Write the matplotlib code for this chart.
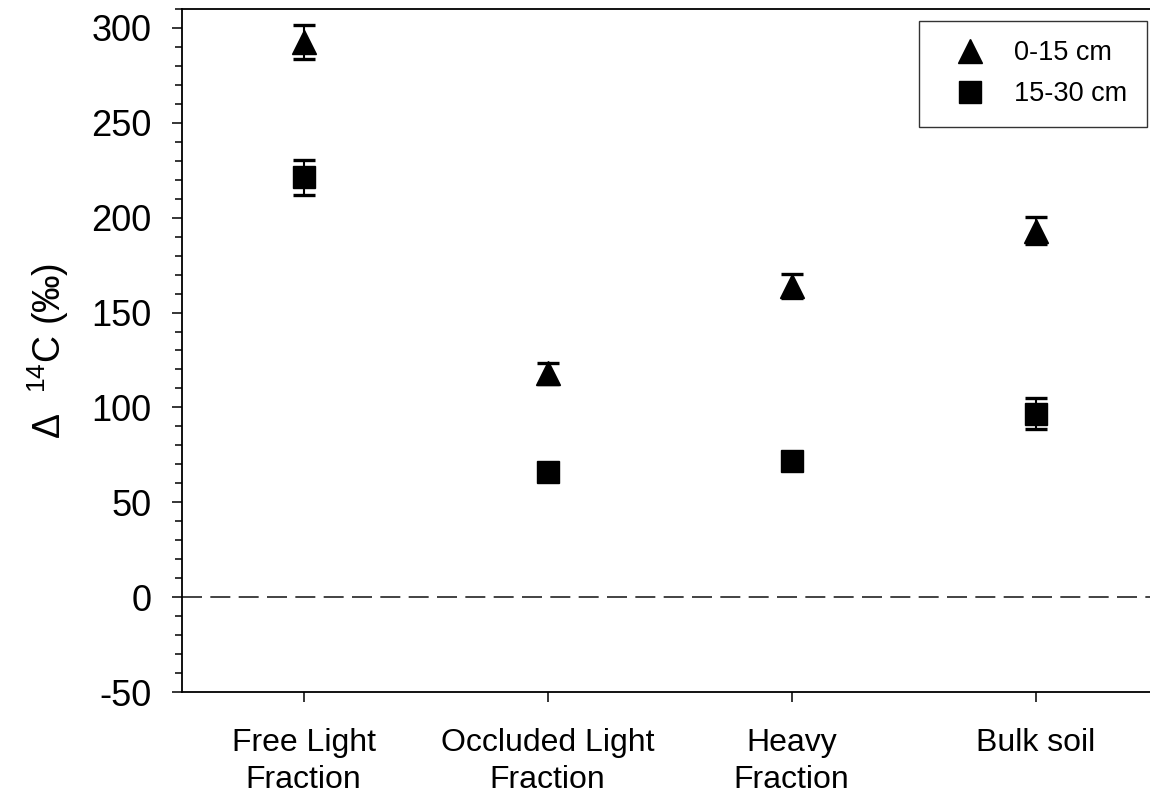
import matplotlib
matplotlib.use("Agg")
import matplotlib.pyplot as plt
from matplotlib.ticker import MultipleLocator

plt.rcParams['font.family'] = ['Liberation Sans', 'DejaVu Sans']
plt.rcParams['mathtext.fontset'] = 'custom'
plt.rcParams['mathtext.rm'] = 'Liberation Sans'
plt.rcParams['mathtext.it'] = 'Liberation Sans:italic'
plt.rcParams['mathtext.bf'] = 'Liberation Sans:bold'
plt.rcParams['axes.unicode_minus'] = False

categories = ["Free Light\nFraction", "Occluded Light\nFraction", "Heavy\nFraction", "Bulk soil"]
depth_labels = ["0-15 cm", "15-30 cm"]
top_vals = [292.6, 117.9, 164.1, 193.1]
top_err = [8.8, 5.7, 6.2, 7.0]
sub_vals = [221.3, 65.9, 72.0, 96.7]
sub_err = [9.3, 3.0, 3.0, 8.3]

fig = plt.figure(figsize=(11.5, 7.98), dpi=100)
ax = fig.add_axes([0.158, 0.1328, 0.8487, 0.856])

x = list(range(1, len(categories) + 1))

ax.axhline(0, color='#222222', lw=1.2, dashes=(12, 5), zorder=1)

eb_kw = dict(fmt='none', ecolor='black', elinewidth=1.5, capsize=8, capthick=2.4, zorder=2)
ax.errorbar(x, top_vals, yerr=top_err, **eb_kw)
ax.errorbar(x, sub_vals, yerr=sub_err, **eb_kw)
ax.plot(x, top_vals, linestyle='none', marker='^', ms=17, color='black', label=depth_labels[0], zorder=3)
ax.plot(x, sub_vals, linestyle='none', marker='s', ms=15.5, color='black', label=depth_labels[1], zorder=3)

ax.set_xlim(0.5, 4.5)
ax.set_ylim(-50, 310)
ax.set_xticks(x)
ax.set_xticklabels(categories, fontsize=23, linespacing=1.3)
ax.yaxis.set_major_locator(MultipleLocator(50))
ax.yaxis.set_minor_locator(MultipleLocator(10))
ax.tick_params(axis='y', which='major', direction='out', length=7.5, width=1.1, labelsize=26, pad=14)
ax.tick_params(axis='y', which='minor', direction='out', length=5, width=1.1)
ax.tick_params(axis='x', which='major', direction='out', length=7, width=1.1, pad=19)

for s in ['left', 'bottom', 'top']:
    ax.spines[s].set_linewidth(1.3)
ax.spines['right'].set_visible(False)

ax.set_ylabel(r'$\Delta$  $^{14}$C (‰)', fontsize=27, labelpad=15)

leg = fig.legend(loc='upper left', bbox_to_anchor=(919 / 1150, 1 - 21 / 798),
                 bbox_transform=fig.transFigure, borderaxespad=0,
                 fontsize=19.5, numpoints=1, frameon=True, fancybox=False,
                 edgecolor='black', borderpad=0.72, handlelength=2.3,
                 handletextpad=0.5, labelspacing=0.55)
leg.get_frame().set_linewidth(1.0)

fig.savefig('out.png', dpi=100)
